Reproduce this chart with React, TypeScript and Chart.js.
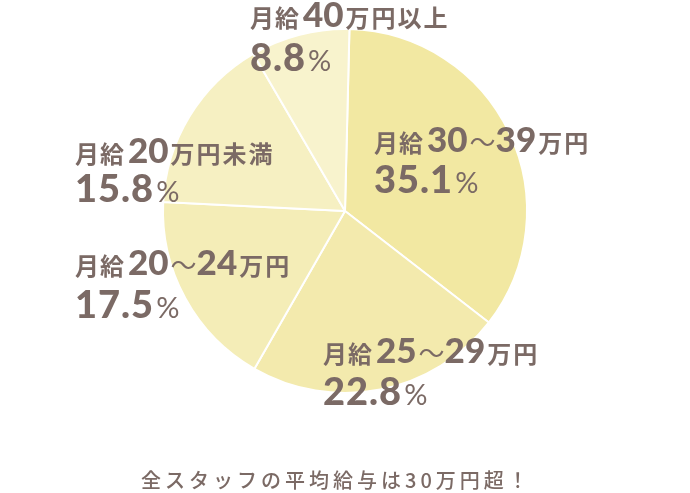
import React, { useEffect, useRef } from "react";
import { Chart, registerables } from "chart.js";

Chart.register(...registerables);

// ---- data ----
const salaryPrefix = "月給";
const salaryRanges = ["30～39", "25～29", "20～24", "20", "40"];
const salarySuffixes = ["万円", "万円", "万円", "万円未満", "万円以上"];
const categories = salaryRanges.map((r, i) => salaryPrefix + r + salarySuffixes[i]);
const shares = [35.1, 22.8, 17.5, 15.8, 8.8];
const caption = "全スタッフの平均給与は30万円超！";

// ---- styles ----
const sliceColors = ["#f2e8a2", "#f3eaad", "#f4edb7", "#f6f0c2", "#f8f3cd"];
const textColor = "#7b6a65";
const CJK = '"Noto Sans CJK JP"';
const NUM = "Lato";
// label offsets relative to pie centre: [dx, line1 baseline dy, line2 baseline dy]
const labelOffsets: [number, number, number][] = [
  [29, -59, -18],
  [-22, 152, 194],
  [-270, 64, 107],
  [-270, -48, -9],
  [-95, -184, -140],
];

type Run = { text: string; font: string; spacing: number; gap: number };

function drawRuns(ctx: CanvasRenderingContext2D, x: number, y: number, runs: Run[]) {
  let cx = x;
  for (const r of runs) {
    ctx.font = r.font;
    (ctx as any).letterSpacing = r.spacing + "px";
    ctx.fillText(r.text, cx, y);
    cx += ctx.measureText(r.text).width + r.gap;
  }
  (ctx as any).letterSpacing = "0px";
}

const labelPlugin = {
  id: "salaryLabels",
  afterDraw(chart: any) {
    const ctx: CanvasRenderingContext2D = chart.ctx;
    const meta = chart.getDatasetMeta(0);
    const arc = meta.data[0];
    const cx = arc.x;
    const cy = arc.y;
    ctx.save();
    ctx.fillStyle = textColor;
    ctx.textAlign = "left";
    ctx.textBaseline = "alphabetic";
    shares.forEach((v, i) => {
      const [dx, b1, b2] = labelOffsets[i];
      const x = cx + dx;
      const runs: Run[] = [{ text: salaryPrefix, font: `700 24px ${CJK}`, spacing: 1, gap: 3 }];
      const parts = salaryRanges[i].split("～");
      parts.forEach((p, k) => {
        runs.push({ text: p, font: `900 35px ${NUM}`, spacing: 0, gap: 2 });
        if (k < parts.length - 1) runs.push({ text: "～", font: `400 26px ${CJK}`, spacing: 0, gap: 0 });
      });
      runs.push({ text: salarySuffixes[i], font: `700 24px ${CJK}`, spacing: 2, gap: 0 });
      drawRuns(ctx, x, cy + b1, runs);
      drawRuns(ctx, x, cy + b2, [
        { text: v.toFixed(1), font: `900 38px ${NUM}`, spacing: 1, gap: 2 },
        { text: "%", font: `400 29px ${NUM}`, spacing: 0, gap: 0 },
      ]);
    });
    // caption
    ctx.font = `500 20px ${CJK}`;
    (ctx as any).letterSpacing = "4px";
    ctx.fillText(caption, 141, 488);
    ctx.restore();
  },
};

export default function App() {
  const ref = useRef<HTMLCanvasElement | null>(null);
  useEffect(() => {
    document.body.style.margin = "0";
    const canvas = ref.current!;
    const chart = new Chart(canvas, {
      type: "pie",
      data: {
        labels: categories,
        datasets: [
          {
            data: shares,
            backgroundColor: sliceColors,
            borderColor: "#ffffff",
            borderWidth: 2,
          },
        ],
      },
      options: {
        animation: false,
        responsive: false,
        rotation: 1.4,
        layout: { padding: { top: 28, bottom: 99, left: 0, right: 0 } },
        plugins: { legend: { display: false }, tooltip: { enabled: false }, title: { display: false } },
      },
      plugins: [labelPlugin],
    });
    return () => chart.destroy();
  }, []);
  return (
    <div style={{ position: "absolute", left: 0, top: 0, width: 690, height: 493, background: "#fff" }}>
      <canvas ref={ref} width={690} height={493} style={{ width: 690, height: 493 }} />
    </div>
  );
}
